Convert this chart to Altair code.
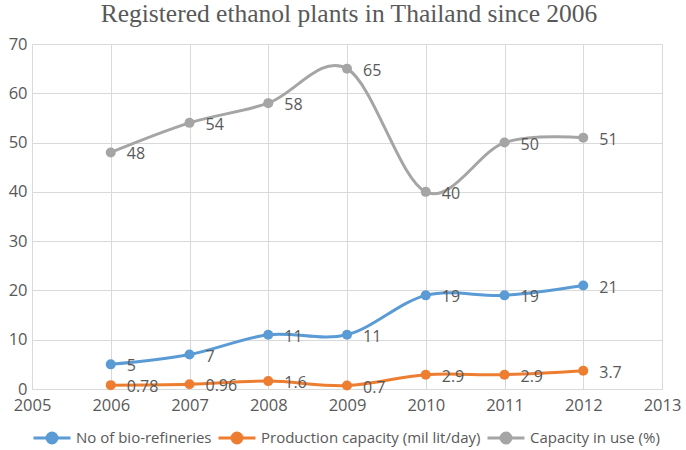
import altair as alt
import pandas as pd

years = [2006, 2007, 2008, 2009, 2010, 2011, 2012]
refineries = [5, 7, 11, 11, 19, 19, 21]
capacity = [0.78, 0.96, 1.6, 0.7, 2.9, 2.9, 3.7]
in_use = [48, 54, 58, 65, 40, 50, 51]

series_names = ["No of bio-refineries", "Production capacity (mil lit/day)", "Capacity in use (%)"]
series_colors = ["#5b9bd5", "#ed7d31", "#a5a5a5"]

rows = []
for name, vals in zip(series_names, [refineries, capacity, in_use]):
    for y, v in zip(years, vals):
        rows.append({"year": y, "value": v, "series": name, "label": str(v)})
df = pd.DataFrame(rows)

FONT = "Open Sans"
GRAY = "#595959"

legend = alt.Legend(
    title=None,
    orient="none",
    legendX=0,
    legendY=374,
    direction="horizontal",
    symbolType="M-1,0L1,0M-0.27,0A0.27,0.27,0,1,1,0.27,0A0.27,0.27,0,1,1,-0.27,0Z",
    symbolSize=1369,
    symbolStrokeWidth=3,
    symbolOpacity=1,
    labelFont=FONT,
    labelFontSize=15,
    labelColor=GRAY,
    labelOffset=4,
    labelLimit=400,
    columnPadding=0,
)
scale = alt.Scale(domain=series_names, range=series_colors)

x = alt.X(
    "year:Q",
    scale=alt.Scale(domain=[2005, 2013], nice=False, zero=False),
    axis=alt.Axis(
        title=None,
        values=list(range(2005, 2014)),
        format="d",
        grid=True,
        gridColor="#d9d9d9",
        domainColor="#d9d9d9",
        ticks=False,
        labelFlush=False,
        labelPadding=8,
        labelFont=FONT,
        labelFontSize=16.5,
        labelColor=GRAY,
    ),
)
y = alt.Y(
    "value:Q",
    scale=alt.Scale(domain=[0, 70], nice=False),
    axis=alt.Axis(
        title=None,
        values=list(range(0, 71, 10)),
        grid=True,
        gridColor="#d9d9d9",
        domainColor="#d9d9d9",
        ticks=False,
        labelFlush=False,
        labelPadding=5,
        labelFont=FONT,
        labelFontSize=16.5,
        labelColor=GRAY,
    ),
)

base = alt.Chart(df)
lines = base.mark_line(interpolate="cardinal", strokeWidth=3).encode(
    x=x, y=y, color=alt.Color("series:N", scale=scale, legend=legend), detail="series:N"
)
points = base.mark_circle(size=100, opacity=1).encode(
    x=x, y=y, color=alt.Color("series:N", scale=scale, legend=legend)
)
labels = base.mark_text(align="left", baseline="middle", dx=16, dy=2, font=FONT, fontSize=16, color=GRAY).encode(
    x=x, y=y, text="label:N"
)

chart = alt.layer(lines, points, labels).properties(
    width=630,
    height=345,
    autosize=alt.AutoSizeParams(type="none"),
    padding={"left": 32, "top": 44, "right": 24, "bottom": 61},
    title=alt.TitleParams(
        "Registered ethanol plants in Thailand since 2006",
        font="Liberation Serif",
        fontSize=25.5,
        fontWeight="normal",
        color=GRAY,
        anchor="middle",
        frame="group",
        offset=9,
        dx=2,
    ),
).configure_view(stroke=None)

chart.save("out.html", embed_options={"renderer": "svg", "actions": False})
